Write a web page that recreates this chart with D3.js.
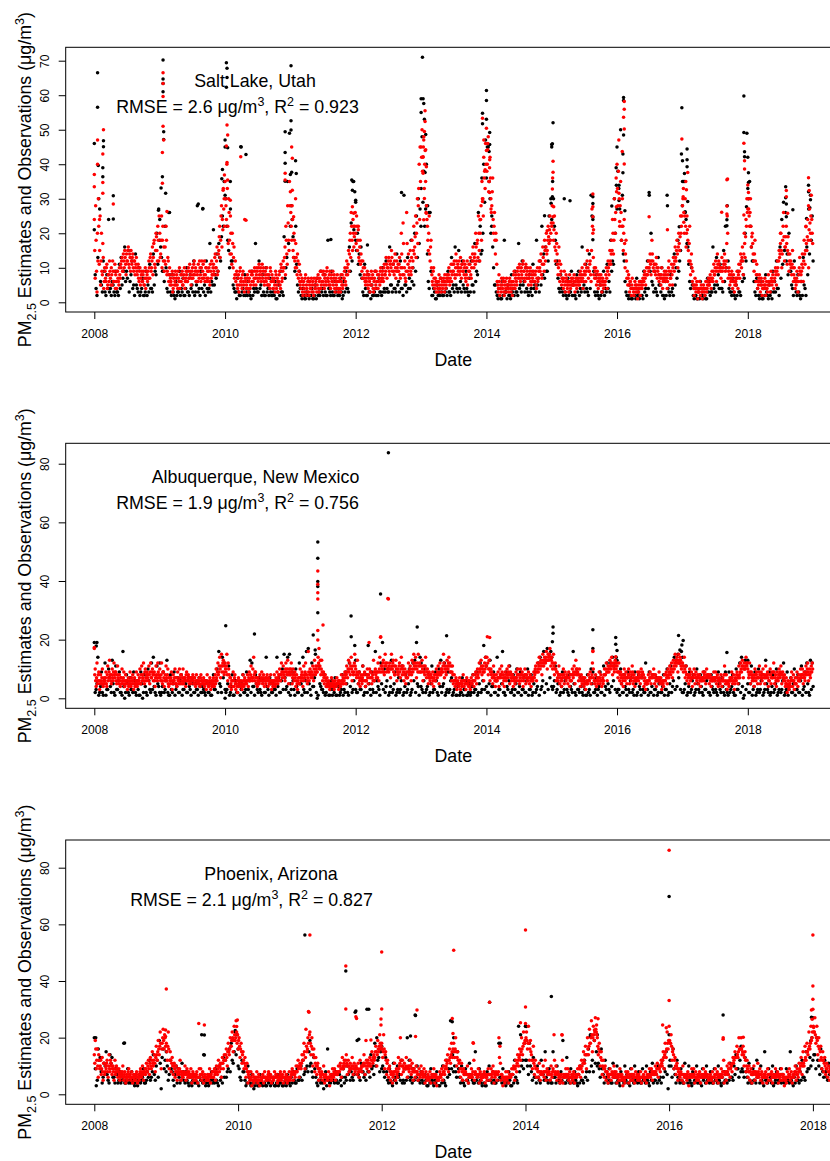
<!DOCTYPE html>
<html>
<head>
<meta charset="utf-8">
<script src="https://cdn.jsdelivr.net/npm/d3@7"></script>
<style>
  body { margin: 0; background: #fff; }
  svg { display: block; }
  text { font-family: "Liberation Sans", Arial, Helvetica, sans-serif; fill: #000; }
</style>
</head>
<body>
<svg id="chart" width="830" height="1161"></svg>
<script>
// Daily PM2.5: estimates (red) vs. observations (black), 2008-2018.
// One row per year. Estimates are listed every 5 days (two interleaved row sets,
// offset by 2.5 days), observations every 10 days (two sets offset by 5 days).
// Episode values are listed separately as [decimal year, value].

const firstYear = 2008;
const xTickYears = [2008, 2010, 2012, 2014, 2016, 2018];

// ---------- Salt Lake, Utah ----------
const saltLakeEst = [
  [24,7,18,3,12,22, 15,5,20,8,13,6, 9,6,11,5,8,12, 7,10,5,9,6,11, 8,4,9,6,10,7, 10,13,9,12,15,11, 14,12,16,10,13,15, 11,14,9,12,10,13, 8,11,6,10,7,9, 6,9,5,10,7,8, 9,12,7,14,10,16, 13,18,10,20,15,22,12],
  [20,14,25,18,12,9, 16,22,8,13,6,10, 7,5,9,4,8,6, 5,8,4,7,10,6, 6,9,5,8,4,7, 8,6,10,7,9,5, 9,7,11,8,10,6, 8,11,7,10,6,12, 9,7,12,8,10,6, 7,10,5,9,12,8, 11,8,14,10,16,9, 15,22,18,28,24,33,30],
  [35,28,40,22,30,18, 25,14,20,10,16,8, 6,9,4,8,5,10, 7,4,9,5,24,6, 5,8,3,7,4,9, 6,9,5,10,7,8, 9,6,11,7,10,8, 7,10,5,9,6,8, 5,8,4,9,6,7, 4,7,3,8,5,6, 6,9,4,10,7,12, 10,16,22,14,28,18,35],
  [32,22,28,15,20,12, 17,10,14,7,11,5, 4,7,2,6,3,8, 5,3,7,2,6,4, 3,6,2,5,4,7, 5,8,3,7,4,9, 6,9,4,8,5,10, 7,5,9,4,8,6, 5,8,3,7,4,6, 4,7,3,6,8,5, 7,10,5,12,8,15, 14,20,26,18,24,16,22],
  [20,25,15,22,12,18, 14,9,12,7,10,5, 6,9,4,8,3,7, 5,8,3,7,4,9, 6,4,8,5,10,7, 9,6,11,8,13,7, 10,13,8,12,15,9, 11,8,14,7,12,9, 9,13,7,20,10,23, 8,12,6,26,9,14, 10,15,8,18,12,22, 16,25,20,30,28,40,45],
  [45,50,42,48,40,35, 28,22,15,25,12,18, 8,5,10,4,7,3, 6,3,8,4,7,5, 4,7,3,6,5,8, 7,10,5,9,6,11, 9,12,7,14,8,11, 10,8,13,7,11,9, 8,11,6,10,5,9, 9,13,7,12,16,10, 14,20,12,18,25,15, 20,28,35,30,42,38,46],
  [44,40,48,35,42,30, 28,36,20,26,14,18, 6,3,8,2,5,7, 4,7,2,6,3,5, 5,3,7,4,6,2, 6,9,4,8,5,10, 8,11,6,10,7,12, 9,6,11,7,10,5, 7,10,5,9,6,8, 6,9,4,10,7,12, 9,14,7,16,11,18, 12,20,15,22,17,25,20],
  [22,36,18,25,12,20, 14,8,16,6,11,5, 7,4,9,3,8,5, 6,3,8,4,7,5, 5,8,3,7,4,6, 7,5,9,6,10,4, 8,11,6,10,15,7, 9,12,6,27,20,8, 7,10,5,9,4,8, 5,8,3,7,4,6, 6,10,4,12,8,15, 11,18,24,14,30,20,36],
  [40,28,47,22,35,18, 30,15,24,10,18,7, 5,8,3,6,2,7, 4,2,6,3,5,1, 3,6,2,5,4,7, 6,9,5,10,8,12, 10,14,8,18,12,9, 11,8,13,7,10,6, 8,5,10,4,7,9, 6,9,4,8,12,5, 7,11,5,13,9,16, 12,18,10,20,15,25,22],
  [28,33,20,30,16,25, 18,12,22,8,14,6, 5,2,7,3,6,1, 3,6,2,5,1,4, 4,2,6,3,5,7, 5,8,4,9,6,11, 8,12,6,14,9,11, 10,7,13,6,11,14, 9,12,25,7,10,5, 6,9,4,8,3,7, 5,9,4,11,7,14, 10,16,8,20,13,24,30],
  [34,27,22,30,16,20, 14,9,18,6,11,4, 5,8,3,7,2,6, 4,7,2,6,3,8, 6,3,9,5,8,4, 7,10,5,12,8,15, 14,20,10,18,26,12, 16,22,11,19,9,14, 12,8,15,6,10,4, 5,9,3,8,13,6, 9,14,6,18,11,22, 15,24,10,27,18,31,20]
];
const saltLakeEstMid = [
  [15,28,9,20,30,11, 25,12,9,17,4,10, 7,10,4,8,6,9, 5,8,12,6,9,4, 6,9,7,5,8,11, 12,9,14,10,13,8, 12,15,11,14,9,12, 13,10,12,8,11,9, 10,7,9,5,8,6, 8,5,7,4,9,6, 7,10,13,9,12,8, 17,11,15,19,12,18,25],
  [13,18,10,22,16,12, 11,18,9,12,8,5, 6,8,3,7,5,9, 7,5,9,6,4,8, 8,5,7,10,6,9, 6,9,7,11,8,7, 10,8,12,9,6,9, 6,9,12,8,10,7, 11,8,6,10,7,9, 9,6,11,7,8,10, 9,13,10,12,8,14, 19,13,25,16,21,27,22],
  [30,24,33,17,26,14, 20,11,17,13,7,12, 8,5,7,3,9,6, 5,8,6,3,7,4, 7,4,6,9,5,8, 8,6,7,9,5,10, 7,10,8,9,6,11, 9,6,8,7,10,5, 7,5,10,6,8,4, 6,5,9,4,7,3, 8,5,11,6,9,10, 13,8,18,11,23,15,28],
  [26,18,24,13,18,10, 13,8,12,9,6,8, 6,3,5,4,7,2, 4,6,3,5,4,7, 5,3,7,4,6,3, 7,4,6,9,5,6, 8,5,7,6,9,7, 6,8,5,7,6,9, 7,4,6,5,8,3, 6,4,8,5,4,7, 9,6,8,10,11,9, 18,13,22,15,20,19,26],
  [17,22,18,13,16,11, 12,7,10,8,6,7, 8,5,7,6,5,9, 7,4,6,9,5,6, 8,6,7,9,6,8, 7,10,8,9,11,10, 12,9,11,10,13,11, 9,12,10,9,10,11, 11,8,10,14,8,17, 10,7,9,17,11,8, 12,9,13,10,15,14, 19,13,23,17,33,24,35],
  [42,38,45,33,44,26, 24,18,20,14,16,10, 6,9,7,5,6,5, 4,6,5,7,3,6, 6,5,8,4,7,6, 8,6,7,11,8,9, 11,8,10,12,10,9, 12,9,10,11,9,12, 10,7,8,12,7,11, 11,8,10,14,12,13, 11,16,17,13,20,12, 24,18,30,25,36,33,40],
  [38,46,32,39,36,26, 32,24,22,18,20,11, 5,4,6,4,3,5, 6,3,5,4,7,4, 4,6,5,3,5,4, 8,5,7,6,9,7, 10,7,9,8,11,9, 7,10,8,9,7,8, 9,6,8,7,9,6, 8,5,7,6,9,10, 12,8,11,13,9,15, 16,14,18,19,21,18,23],
  [28,23,21,16,15,17, 11,10,12,8,9,7, 6,7,5,6,7,4, 5,6,5,6,5,7, 6,5,6,5,7,5, 6,8,7,8,7,6, 9,8,9,12,10,9, 11,8,15,22,13,10, 9,7,8,6,7,6, 7,5,6,5,6,5, 8,7,9,10,11,12, 14,15,20,18,24,26,32],
  [33,38,30,28,26,22, 22,20,17,14,12,9, 7,5,6,4,5,4, 3,4,5,4,3,4, 5,4,4,6,5,6, 8,7,8,8,10,9, 12,11,12,14,10,11, 9,11,10,9,8,8, 7,8,7,6,8,7, 8,7,6,10,9,7, 9,8,10,11,12,13, 15,14,16,17,19,20,25],
  [30,26,25,22,20,21, 15,17,12,11,10,9, 4,5,4,5,4,3, 4,4,4,3,3,5, 3,4,4,4,6,5, 7,6,7,7,9,8, 10,9,10,11,12,10, 9,10,9,10,12,11, 10,17,20,9,8,7, 8,7,6,6,5,6, 7,7,8,9,11,12, 13,12,14,17,19,22,26],
  [30,25,26,22,19,17, 12,14,12,8,8,6, 7,6,5,5,4,4, 5,5,4,4,5,6, 5,6,7,6,6,6, 9,8,9,10,12,13, 17,15,14,22,19,16, 19,17,15,14,12,11, 10,11,10,8,7,6, 7,6,6,10,9,8, 11,10,12,14,15,17, 19,18,21,23,25,24,17]
];
const saltLakeObs = [
  [21,4,13, 27,5,12, 3,8,24, 4,6,3, 9,3,11, 13,7,16, 9,15,6, 12,5,14, 4,10,3, 7,2,9, 5,11,4, 14,9,20,27],
  [24,13,9, 22,4,26, 3,8,2, 6,3,9, 4,7,2, 10,3,8, 5,12,3, 28,4,9, 27,5,12, 3,17,6, 21,8,14, 17,12,25,35],
  [45,22,15, 27,12,4, 3,7,2, 45,4,8, 3,6,2, 9,4,17, 3,12,5, 8,2,10, 4,7,2, 3,6,1, 5,9,3, 19,10,35,49],
  [37,24,13, 22,5,9, 2,4,1, 3,6,2, 4,1,5, 7,3,9, 4,8,2, 18,3,9, 2,6,4, 3,7,1, 6,9,4, 16,23,35,32],
  [29,20,14, 16,3,11, 2,8,3, 5,2,9, 4,7,3, 10,4,12, 3,16,5, 11,4,14, 6,12,4, 31,5,13, 7,18,10, 20,25,30,27],
  [59,29,22, 28,6,26, 2,4,1, 5,3,7, 2,6,4, 9,3,13, 5,16,4, 15,6,12, 4,9,3, 7,12,5, 17,9,26, 22,15,40,47],
  [53,45,30, 25,10,5, 2,4,1, 6,18,3, 5,2,8, 4,9,3, 17,5,12, 6,10,3, 8,4,11, 5,18,7, 12,22,14, 16,9,25,30],
  [45,30,18, 12,4,8, 3,30,2, 7,3,9, 5,2,8, 9,4,16, 5,11,3, 14,31,24, 3,8,2, 5,3,9, 4,11,6, 18,12,30,39],
  [45,33,50, 31,12,3, 2,5,1, 4,2,7, 3,6,2, 9,4,12, 31,20,5, 9,3,13, 5,10,2, 6,31,3, 8,4,14, 10,18,12,43],
  [41,35,24, 16,6,10, 2,4,1, 3,6,2, 4,1,7, 6,3,16, 5,13,8, 11,4,15, 22,28,4, 3,7,2, 5,9,3, 12,8,20,49],
  [42,35,16, 12,3,7, 2,6,1, 4,8,2, 5,3,9, 6,12,4, 16,24,29, 26,14,20, 9,4,12, 3,8,2, 6,13,4, 16,27,31,25]
];
const saltLakeObsMid = [
  [8,2,30, 6,3,9, 2,4,3, 2,5,2, 3,2,4, 5,9,6, 7,3,8, 4,2,5, 3,2,4, 2,3,2, 3,4,3, 5,8,11,18],
  [16,9,6, 10,3,8, 2,3,1, 2,3,2, 3,2,4, 3,2,4, 3,2,5, 3,2,4, 3,2,4, 4,3,5, 5,7,9, 13,19,22,31],
  [30,18,10, 12,5,3, 1,3,2, 3,2,2, 2,3,1, 2,3,4, 3,4,2, 3,2,3, 2,3,2, 2,1,3, 2,3,2, 7,13,17,22],
  [28,19,9, 11,3,4, 1,2,1, 2,1,2, 1,2,1, 2,2,3, 2,3,2, 4,2,3, 2,3,2, 2,3,2, 3,4,3, 9,12,21,18],
  [15,11,8, 7,2,4, 2,3,1, 2,3,2, 2,3,2, 3,3,4, 3,5,3, 4,3,5, 3,4,2, 5,3,4, 4,6,5, 9,13,17,22],
  [48,38,27, 14,4,9, 2,3,1, 2,2,3, 2,3,2, 3,2,4, 3,5,3, 4,3,5, 3,4,2, 3,5,3, 6,8,12, 14,20,29,36],
  [45,35,20, 16,5,3, 1,2,1, 2,3,1, 2,1,3, 2,3,2, 4,3,5, 3,4,2, 3,2,4, 3,5,3, 5,8,7, 9,12,18,24],
  [35,22,11, 7,3,4, 2,3,1, 2,3,2, 2,1,3, 2,3,4, 3,4,2, 4,25,9, 2,3,1, 2,3,2, 3,4,3, 9,11,20,27],
  [38,27,18, 14,6,2, 1,2,1, 2,1,2, 1,2,1, 3,2,4, 9,6,3, 4,2,5, 3,2,1, 2,4,2, 3,2,5, 7,9,15,28],
  [35,26,17, 11,4,5, 1,2,1, 1,2,1, 2,1,3, 2,3,4, 3,5,4, 4,3,6, 10,12,3, 2,3,1, 2,3,2, 6,7,12,33],
  [30,22,12, 6,2,4, 1,2,1, 2,3,1, 2,1,3, 3,4,2, 7,11,15, 12,8,9, 5,2,6, 2,3,1, 2,5,2, 8,14,18,12]
];
const saltLakeObsPeaks = [
  [2008.05,66.5],[2008.05,56.5],[2008.0,46],[2008.14,46.8],[2008.14,45.1],[2008.06,39.6],[2008.13,39],[2008.13,36.4],[2008.29,30.9],[2008.29,24.1],
  [2009.05,70.2],[2009.05,64.7],[2009.05,63.4],[2009.05,61],[2009.06,49.4],[2009.06,47.2],[2009.04,36.4],[2009.02,33.1],[2009.09,31.6],[2009.15,26],[2008.98,26.7],
  [2009.59,28.5],[2009.66,27.2],
  [2010.02,69.4],[2010.03,67.8],[2010.03,65.1],[2010.02,62.3],[2010.0,47],[2010.04,44.8],[2009.96,38.5],[2009.95,35.8],[2010.08,35],[2010.24,45.1],[2010.32,42.8],
  [2011.01,68.5],[2011.01,52.6],[2011.01,49.9],[2010.92,49.4],[2010.92,43.4],[2010.92,40.3],[2011.08,41],[2011.02,37.7],[2011.09,37.3],[2010.92,35.1],
  [2011.94,35.4],[2011.97,35],[2011.95,32.5],[2012.0,29.6],[2011.62,18.2],[2012.18,16.6],[2012.70,31.8],
  [2013.02,71],[2013.03,59],[2013.04,57.6],[2013.0,55],[2013.05,53],[2013.07,48.6],[2013.08,40],[2013.06,37.6],[2013.0,33],[2013.1,28],[2013.12,26],
  [2014.0,61.4],[2014.0,58.5],[2013.94,54.8],[2013.94,51.7],[2014.05,49.2],[2014.05,45.7],[2014.04,43.7],[2013.93,36],[2014.08,22],
  [2015.02,52],[2015.01,45.9],[2015.0,45.7],[2015.01,30.6],[2014.99,28.7],[2015.28,29.4],[2014.89,25.1],
  [2015.63,30.6],[2015.63,28.6],[2015.63,24.7],[2015.63,18.1],
  [2016.1,59.3],[2016.1,58.5],[2016.1,48.5],[2016.09,43],[2016.09,37.5],[2015.99,33.9],[2016.03,33.9],[2015.92,27.9],[2016.03,29.5],[2016.12,26.5],
  [2016.99,56.4],[2017.07,44.4],[2017.07,41.3],[2017.07,39.3],[2017.03,37.3],[2017.0,35],[2017.04,26.2],[2016.77,28],[2016.49,31.8],[2016.95,21.9],[2017.08,29.2],
  [2017.94,59.8],[2017.94,49.2],[2017.95,43.6],[2017.95,42.2],[2018.01,37.5],[2018.01,34.7],[2017.98,27.7],[2017.68,22.2],[2017.68,23.9],
  [2018.58,33.5],[2018.59,28.5],[2018.69,26.8],[2018.59,24.8],[2018.58,30.3],
  [2018.93,33.9],[2018.96,29.7],[2018.93,32],[2018.9,24.3],[2018.95,27.4]
];
const saltLakeEstPeaks = [
  [2008.05,47],[2008.14,50],[2008.13,43],[2008.13,34.7],[2008.13,31.6],[2008.0,33.5],[2008.0,37],[2008.08,24],[2008.05,40],[2008.29,28.5],
  [2009.05,66.5],[2009.05,63.4],[2009.05,59.6],[2009.05,51],[2009.06,47],[2009.04,43.4],[2009.04,34.5],[2009.11,26.3],
  [2010.03,51.4],[2010.04,48.5],[2010.02,45.3],[2010.03,40.5],[2009.99,36.9],[2010.04,35.4],[2009.97,32.5],[2010.08,29.6],[2010.24,42.2],[2010.32,23.8],
  [2011.02,45],[2011.03,41.7],[2010.92,37.4],[2010.92,35.4],[2011.03,32.5],[2011.08,30],[2011.05,24.8],
  [2011.95,27.7],[2011.97,25.8],[2011.97,22],[2012.04,21],
  [2013.06,55.5],[2013.06,52.4],[2013.05,49.5],[2013.04,47],[2013.07,44.2],[2013.03,42.2],[2013.08,39.3],[2013.03,37.4],[2013.05,30.1],[2013.08,25.8],[2013.04,23.9],
  [2013.94,53.3],[2014.0,50.4],[2013.96,47],[2014.02,44.2],[2014.05,41.3],[2013.98,38.4],[2014.04,35],[2014.05,31.8],[2013.94,29.2],[2014.07,27],[2013.9,23.9],
  [2015.02,40.9],[2015.02,37.7],[2015.01,32.8],[2015.03,27.7],[2015.02,24.8],[2014.93,20.7],
  [2015.63,31.4],[2015.63,27.7],[2015.63,24.8],[2015.64,21],
  [2016.11,58.2],[2016.11,55.9],[2016.1,53.6],[2016.11,50.2],[2016.08,43.7],[2016.11,40.1],[2016.03,31.6],[2015.99,27.7],[2016.04,23.4],[2016.49,24.8],
  [2016.99,47.3],[2017.08,37.6],[2017.05,35],[2017.06,32.6],[2017.01,30.6],[2017.02,23.2],[2016.77,21],
  [2017.69,35.7],[2017.68,35.5],[2017.68,27.9],[2017.6,26.1],[2017.68,25.6],
  [2017.94,46.1],[2017.95,41],[2017.95,38.6],[2018.01,31.8],[2018.0,27],[2017.94,25.3],
  [2018.59,32.4],[2018.59,30.6],[2018.61,25.8],[2018.5,20],
  [2018.93,36.1],[2018.94,32.4],[2018.93,28],[2018.89,21.9],[2018.96,20]
];

// ---------- Albuquerque, New Mexico ----------
const albuquerqueEst = [
  [17,10,4,12,6,9, 3,8,5,10,4,7, 6,9,4,11,7,13, 8,5,10,6,12,7, 9,5,11,6,8,4, 7,10,5,9,4,8, 6,3,7,5,9,4, 6,8,3,7,5,9, 4,8,6,10,5,11, 7,12,5,10,6,9, 8,11,5,12,7,10, 6,9,4,11,7,12,8],
  [10,6,12,5,9,4, 8,11,6,10,4,7, 5,9,3,8,6,10, 7,4,9,6,10,5, 8,5,10,6,7,4, 9,6,8,5,7,6, 6,8,5,7,4,8, 6,5,7,4,8,6, 5,7,4,6,3,8, 5,4,7,3,6,5, 7,4,8,10,6,12, 9,14,7,15,11,13,8],
  [12,9,15,6,10,4, 7,3,6,9,4,8, 3,6,2,7,4,5, 6,3,8,4,7,5, 5,8,4,9,6,11, 7,10,14,6,9,5, 4,7,5,8,6,9, 5,8,4,7,6,8, 4,7,5,8,3,6, 5,8,4,7,9,5, 8,10,6,12,7,11, 9,6,12,8,13,5,10],
  [8,12,5,10,6,9, 4,8,3,7,5,10, 6,9,4,11,7,12, 8,5,16,6,10,7, 9,11,6,13,8,10, 9,14,17,11,8,13, 6,9,5,8,4,7, 4,6,3,5,7,4, 5,3,6,4,7,5, 3,6,4,8,5,7, 6,9,5,11,7,13, 10,8,14,6,11,9,15],
  [10,7,13,5,9,4, 8,5,11,6,9,4, 6,10,5,19,7,9, 5,8,13,6,10,7, 9,12,6,14,21,11, 10,13,8,15,11,12, 34,9,12,7,15,10, 13,11,8,13,6,10, 9,12,7,14,8,11, 6,10,5,9,7,12, 8,11,6,13,9,15, 10,14,7,12,15,9,11],
  [9,13,6,11,8,14, 7,10,5,9,6,8, 5,9,4,8,6,10, 7,11,5,12,8,10, 9,15,7,11,8,13, 10,14,12,9,6,11, 5,8,4,7,3,6, 4,7,3,6,5,8, 4,6,3,7,5,4, 6,3,7,5,8,4, 6,9,5,10,7,12, 9,13,8,11,6,12,14],
  [11,21,8,13,6,10, 9,5,11,7,4,8, 6,9,4,10,7,11, 5,8,4,9,6,10, 7,11,5,9,6,8, 4,7,5,9,6,10, 8,5,10,6,9,4, 7,10,5,8,6,9, 5,8,4,7,6,9, 8,11,6,12,9,14, 10,13,8,15,11,14, 12,16,10,15,13,17,11],
  [14,10,15,8,12,6, 9,6,11,5,8,4, 7,10,5,9,6,8, 5,9,4,8,6,10, 7,11,5,13,8,9, 6,10,4,8,5,7, 4,7,3,6,5,8, 6,9,5,8,16,7, 5,8,4,7,6,9, 5,8,4,7,6,10, 8,12,6,11,9,13, 10,14,8,12,9,13,10],
  [11,7,12,6,9,5, 8,4,10,6,9,5, 7,10,5,9,6,11, 5,8,4,7,6,9, 6,9,5,10,7,8, 4,7,3,6,5,8, 6,9,5,8,7,10, 5,8,4,7,6,9, 5,7,3,6,4,8, 6,9,5,10,7,11, 8,12,7,13,10,15, 11,14,9,15,12,13,10],
  [12,9,14,7,11,6, 8,5,10,6,9,4, 7,10,5,9,6,8, 5,8,4,7,6,9, 6,9,5,10,7,8, 5,8,4,7,6,9, 6,9,5,8,4,7, 5,8,4,7,6,11, 5,8,3,6,4,7, 6,9,5,8,3,7, 6,9,5,11,7,12, 9,13,7,12,10,14,11],
  [10,7,12,5,9,6, 8,4,10,6,9,5, 7,11,5,9,6,10, 8,5,11,7,9,4, 6,10,5,9,7,12, 5,8,4,9,6,10, 7,11,5,9,6,8, 4,7,2,6,3,5, 6,9,4,8,3,7, 5,9,4,8,6,10, 7,10,5,9,6,11, 8,12,6,10,7,11,12]
];
const albuquerqueEstMid = [
  [8,6,7,5,8,6, 5,6,7,5,6,5, 7,5,8,6,9,7, 6,8,7,9,8,9, 6,8,7,5,6,7, 5,6,7,6,5,6, 5,6,4,6,5,7, 5,6,5,4,6,5, 6,5,7,5,8,6, 8,6,9,7,8,7, 6,8,9,7,9,8, 8,6,7,8,6,9,7],
  [7,8,6,9,7,6, 6,7,8,5,7,6, 7,6,5,6,7,5, 5,7,6,5,7,8, 6,7,5,7,6,8, 6,7,6,7,5,7, 7,6,7,5,6,6, 5,6,5,7,6,5, 6,5,6,5,6,5, 4,6,5,5,4,6, 5,6,5,7,9,8, 11,10,11,9,12,9,11],
  [10,11,8,12,8,7, 5,6,4,6,7,5, 5,4,6,5,6,4, 4,5,6,6,5,6, 6,6,7,6,8,7, 6,7,8,9,7,7, 6,5,6,6,7,6, 7,6,6,5,7,6, 6,5,6,6,5,4, 6,6,5,6,6,7, 6,8,8,9,9,8, 7,10,9,10,8,9,8],
  [10,9,7,8,8,7, 6,5,6,5,7,7, 8,7,6,8,9,8, 6,7,9,8,8,9, 7,8,10,9,11,9, 11,12,10,13,10,9, 8,7,7,6,6,5, 5,4,5,4,5,6, 4,5,4,5,5,6, 5,4,5,6,6,5, 8,7,8,9,10,9, 12,11,10,9,8,12,11],
  [8,9,8,7,6,7, 6,7,8,8,6,6, 8,7,8,10,9,7, 7,6,9,9,8,9, 7,9,10,9,11,9, 12,9,11,12,9,10, 10,11,10,10,11,12, 9,8,11,10,9,8, 11,9,10,11,10,9, 8,8,7,7,9,9, 10,9,8,10,12,11, 12,11,10,9,11,12,9],
  [11,10,9,9,11,10, 9,8,7,7,8,7, 7,6,7,6,8,8, 9,8,8,9,10,9, 11,12,10,9,10,11, 12,11,9,11,9,8, 6,6,6,5,5,5, 5,5,5,4,6,6, 6,5,5,5,6,6, 4,5,5,6,6,6, 8,7,7,8,9,10, 10,11,10,9,9,10,11],
  [14,12,10,10,9,8, 7,7,8,6,6,6, 7,7,7,8,8,9, 7,6,7,7,8,8, 9,8,8,7,8,7, 6,6,7,7,8,8, 6,7,8,8,7,6, 8,8,7,6,7,7, 7,6,6,6,7,7, 10,9,9,10,11,12, 12,11,12,13,12,13, 14,13,13,14,15,14,13],
  [12,12,11,10,10,9, 7,8,8,7,6,6, 8,8,7,7,7,7, 7,7,6,6,8,8, 9,8,9,10,10,8, 8,7,6,6,7,6, 5,5,5,5,6,6, 7,7,7,12,10,6, 6,6,6,5,7,7, 6,6,6,5,8,8, 10,9,9,10,11,11, 12,11,11,10,11,12,12],
  [9,9,9,8,7,7, 6,7,8,7,7,7, 8,8,7,7,8,9, 7,6,6,6,7,7, 8,7,7,8,9,8, 6,5,5,5,6,6, 7,7,7,8,8,8, 7,6,6,6,7,7, 6,5,5,5,6,6, 8,7,7,8,9,9, 10,10,9,11,12,12, 13,12,12,13,14,11,12],
  [11,11,10,9,8,8, 7,7,8,7,7,7, 8,8,7,7,7,7, 7,6,6,6,7,7, 8,7,7,8,8,7, 7,6,6,6,7,7, 7,7,7,6,6,6, 6,6,6,6,8,8, 6,5,5,5,6,6, 7,7,6,6,5,6, 8,7,7,8,9,10, 11,11,10,10,11,12,12],
  [9,8,9,8,7,7, 6,7,8,8,7,7, 9,8,7,7,8,8, 7,7,8,8,7,6, 8,8,7,7,9,9, 7,6,6,7,8,8, 9,8,8,7,7,6, 5,5,4,4,5,4, 7,6,6,6,5,5, 7,7,6,6,7,8, 8,8,7,7,8,9, 10,9,8,8,9,9,10]
];
const albuquerqueObs = [
  [19,3,14, 2,9,1, 12,3,10, 4,13,2, 11,3,9, 2,16,0, 8,2,7, 3,9,2, 6,1,9, 0,8,2, 10,3,12, 14,2,11,4],
  [12,2,9, 3,13,1, 8,2,9, 3,7,2, 8,3,6, 2,7,3, 6,2,5, 3,7,2, 4,2,6, 2,5,1, 8,3,10, 16,4,14,12],
  [0,3,11, 2,8,1, 6,2,5, 3,8,2, 9,3,13, 12,4,8, 3,7,2, 6,2,14, 3,7,2, 5,3,14, 7,2,10, 15,3,14,15],
  [1,9,3, 10,2,12, 5,14,2, 16,17,3, 12,4,15, 0,11,4, 3,8,2, 5,1,6, 3,7,1, 4,2,8, 3,9,2, 12,21,3,18],
  [13,2,9, 3,11,2, 8,18,3, 9,2,16, 6,3,12, 19,10,4, 10,2,13, 3,9,2, 7,3,11, 2,8,3, 10,2,12, 13,19,4,14],
  [12,2,10, 3,8,2, 11,3,9, 2,10,13, 4,12,2, 9,3,7, 2,6,1, 5,2,7, 3,6,1, 5,2,8, 3,9,2, 12,3,18,14],
  [11,2,13, 4,9,2, 14,3,8, 16,2,9, 3,11,2, 8,3,10, 2,9,3, 7,2,10, 3,8,2, 9,3,12, 14,4,16, 13,17,15,16],
  [14,4,11, 3,8,2, 9,3,7, 2,8,3, 16,2,9, 3,7,2, 6,1,8, 3,10,9, 2,7,3, 9,2,11, 4,12,3, 12,14,11,14],
  [13,3,10, 2,8,3, 9,2,7, 3,9,1, 8,3,7, 2,12,3, 9,2,8, 3,7,2, 6,2,8, 3,10,2, 11,4,14, 13,15,12,16],
  [14,3,11, 2,9,3, 8,2,10, 3,8,2, 9,3,7, 2,8,3, 6,2,9, 3,7,2, 9,2,9, 3,8,1, 10,3,12, 14,0,13,12],
  [13,2,11, 3,9,2, 10,3,8, 2,13,3, 9,2,8, 3,10,2, 8,3,12, 2,9,3, 7,2,10, 3,8,2, 11,3,9, 12,2,13,12]
];
const albuquerqueObsMid = [
  [2,5,1, 4,2,6, 1,3,7, 2,5,1, 3,6,2, 1,4,2, 5,1,3, 2,6,1, 3,1,5, 2,4,1, 6,2,3, 4,1,5,2],
  [1,4,2, 6,2,1, 3,5,1, 4,2,6, 1,3,5, 2,4,1, 5,2,3, 1,4,2, 3,1,5, 2,1,4, 3,6,2, 5,2,7,3],
  [2,5,1, 4,1,6, 2,4,1, 5,2,3, 1,6,2, 4,1,5, 2,3,1, 6,2,4, 1,5,2, 3,1,4, 2,6,3, 7,4,2,5],
  [3,6,1, 4,2,5, 1,3,6, 2,5,1, 4,7,2, 1,5,3, 2,1,4, 1,3,1, 2,1,5, 1,3,1, 2,5,1, 4,2,6,3],
  [2,5,3, 6,1,4, 2,5,1, 3,6,2, 4,1,5, 3,2,6, 1,4,2, 5,1,3, 2,6,1, 4,2,5, 1,3,6, 2,5,1,4],
  [3,6,2, 4,1,5, 2,3,6, 1,4,2, 5,1,3, 2,6,1, 3,1,4, 1,2,1, 3,1,2, 1,4,2, 3,1,5, 2,6,3,4],
  [2,5,1, 4,2,6, 1,3,5, 2,1,4, 6,2,3, 1,5,2, 4,1,3, 2,6,1, 3,1,5, 2,4,1, 3,6,2, 5,3,7,4],
  [3,6,2, 5,1,4, 2,6,3, 1,4,2, 5,1,3, 2,4,1, 3,1,2, 1,5,2, 3,1,4, 2,6,1, 3,5,2, 4,6,3,2],
  [3,1,5, 2,4,1, 3,6,2, 1,5,2, 4,1,3, 2,5,1, 2,4,1, 3,1,5, 2,4,1, 3,1,5, 2,6,3, 4,7,3,2],
  [2,5,1, 4,2,6, 1,3,5, 2,4,1, 3,6,2, 1,4,2, 3,1,5, 2,4,1, 3,1,2, 4,2,1, 3,5,2, 4,1,3,5],
  [2,5,1, 4,1,3, 2,6,1, 3,5,2, 1,4,2, 5,1,3, 2,6,1, 3,1,4, 2,5,1, 3,2,6, 1,4,2, 5,1,3,4]
];
const albuquerqueObsPeaks = [
  [2008.04,19],[2008.03,17.8],[2010.01,24.7],[2010.45,21.9],
  [2011.42,53.3],[2011.42,47.8],[2011.42,39.8],[2011.42,38.1],[2011.42,29.2],[2011.35,21.6],[2011.38,16.5],
  [2011.93,28.1],[2012.38,35.6],[2012.5,83.7],[2012.94,24.3],[2013.39,21.3],
  [2015.02,24.3],[2015.02,22.2],[2015.01,19.3],[2015.63,23.4],[2015.63,17],
  [2015.98,20.7],[2015.98,18.4],[2016.0,16.3],
  [2016.94,21.4],[2017.01,19.7],[2016.99,18.2],[2016.96,16.5],[2017.68,15.6]
];
const albuquerqueEstPeaks = [
  [2008.0,17.3],[2011.42,43.4],[2011.42,38.9],[2011.42,36],[2011.42,33.9],[2011.42,23.1],[2011.42,19.9],[2011.5,25],
  [2012.5,33.9],[2012.38,20.8],[2014.05,20.7],[2015.63,16.1],[2015.98,14.2]
];

// ---------- Phoenix, Arizona ----------
const phoenixEst = [
  [14,19,9,16,6,12, 10,7,13,5,11,8, 9,12,6,14,8,11, 7,10,5,12,8,9, 6,9,5,8,7,10, 5,8,4,7,6,9, 6,5,8,4,7,6, 5,8,4,7,6,9, 6,10,5,8,7,11, 8,12,7,13,9,15, 10,14,8,17,12,19, 14,22,9,18,23,16,20],
  [18,12,22,9,15,8, 13,7,11,6,10,5, 9,7,12,5,8,6, 7,10,5,9,6,8, 6,9,4,8,5,7, 5,8,4,25,6,9, 5,8,4,7,6,5, 7,5,9,4,6,8, 6,9,5,10,7,12, 8,11,6,13,9,14, 12,16,10,18,14,20, 17,22,15,24,19,26,18],
  [16,20,13,18,11,15, 9,13,6,11,4,8, 5,8,3,7,4,6, 5,8,4,7,3,6, 5,7,4,8,6,5, 6,8,5,7,4,6, 5,8,6,7,4,6, 6,8,5,7,4,8, 5,7,4,6,8,5, 7,9,5,8,6,10, 8,12,6,11,9,14, 12,18,9,23,15,20,29],
  [22,14,20,10,16,8, 13,7,11,5,9,6, 8,5,10,4,7,6, 5,8,3,7,5,9, 6,9,5,8,7,10, 8,11,6,13,9,12, 10,14,7,12,8,11, 9,13,7,11,8,10, 7,11,6,12,9,8, 10,14,7,19,9,12, 8,13,10,15,11,14, 13,17,10,19,15,21,16],
  [18,13,21,9,15,7, 12,6,10,5,8,4, 7,11,5,9,6,13, 10,20,7,12,8,11, 9,13,6,10,8,12, 7,11,5,9,6,10, 8,5,9,6,10,7, 6,9,4,8,5,7, 5,8,4,7,6,9, 4,7,3,6,5,8, 6,9,5,10,7,12, 9,14,8,16,11,18,13],
  [18,13,20,10,15,8, 12,6,11,5,9,7, 8,5,10,4,7,6, 9,6,18,5,8,7, 6,9,4,8,5,7, 6,8,4,7,5,9, 7,5,9,6,10,4, 6,8,5,7,20,17, 5,7,3,6,4,8, 5,8,4,7,6,9, 7,10,5,12,8,14, 10,16,12,20,14,22,18],
  [25,22,16,24,12,19, 14,9,17,7,12,6, 9,6,11,5,8,7, 10,6,12,5,9,7, 8,5,10,6,9,21, 7,10,5,8,6,4, 5,21,4,7,6,9, 6,9,5,8,4,7, 5,8,4,7,6,9, 7,10,6,12,8,15, 11,17,9,20,14,23, 18,26,15,24,19,27,22],
  [20,14,18,10,15,7, 12,6,10,5,8,4, 7,9,5,8,6,10, 6,8,4,7,5,9, 5,7,3,6,4,8, 6,8,4,7,5,9, 5,7,4,8,6,5, 7,5,8,4,6,7, 5,8,4,7,6,9, 6,9,5,8,7,10, 7,11,6,9,8,12, 10,15,9,18,13,22,16],
  [24,18,21,12,16,9, 13,7,11,5,9,6, 8,5,10,4,7,6, 5,8,3,7,6,9, 6,9,4,8,5,7, 5,8,4,7,6,9, 6,8,4,7,5,6, 7,5,8,4,6,9, 5,8,4,7,6,9, 6,20,4,8,5,10, 7,11,6,10,8,13, 12,15,9,17,13,20,16],
  [20,14,17,10,15,8, 12,6,10,5,9,4, 7,10,5,8,6,11, 6,9,5,8,4,7, 6,8,4,9,5,7, 5,8,4,7,6,9, 6,8,4,7,5,9, 5,7,3,6,4,8, 6,9,5,8,4,7, 7,10,5,9,6,11, 8,13,7,15,10,17, 12,18,14,22,16,24,20],
  [30,22,27,18,24,14, 20,12,17,9,15,8, 13,7,11,6,10,5,9]
];
const phoenixEstMid = [
  [11,16,12,10,14,9, 12,9,8,11,7,10, 11,8,10,9,12,10, 9,8,9,7,10,8, 8,7,6,7,8,6, 7,6,6,5,8,7, 7,6,6,6,5,7, 7,6,6,5,8,7, 8,7,8,9,9,8, 10,9,11,10,12,11, 12,11,13,14,15,16, 17,18,16,20,19,21,17],
  [15,17,16,12,12,11, 10,10,9,8,8,7, 8,9,8,7,6,7, 8,7,7,8,7,7, 7,6,7,6,7,6, 7,6,6,9,7,7, 7,6,6,6,5,6, 6,7,6,7,8,6, 8,7,8,8,9,10, 10,9,11,11,12,12, 14,13,15,15,16,17, 19,20,19,21,20,22,21],
  [19,17,16,15,14,12, 11,10,9,8,7,6, 6,6,5,5,6,5, 6,5,6,5,5,5, 6,6,6,6,5,6, 7,6,6,6,6,5, 6,6,7,6,5,5, 7,6,6,6,6,6, 6,6,5,5,6,6, 8,7,7,7,8,8, 10,9,10,10,11,12, 14,15,13,17,16,18,21],
  [18,17,16,14,13,11, 10,10,9,8,7,7, 7,7,6,6,6,5, 6,6,6,5,6,7, 8,7,7,7,8,8, 10,9,9,10,11,10, 12,11,10,10,9,9, 10,10,9,9,10,9, 9,8,8,9,10,10, 11,11,10,12,11,10, 11,10,12,12,13,12, 15,15,14,16,17,18,17],
  [16,15,16,14,12,11, 9,9,8,7,7,6, 8,8,8,7,8,9, 11,12,10,10,9,9, 10,9,9,9,10,10, 9,8,8,8,8,8, 7,7,7,7,8,8, 7,7,6,6,6,6, 6,6,6,6,7,7, 6,6,5,5,6,6, 7,7,8,8,9,10, 11,12,12,13,14,15,16],
  [15,16,15,13,12,11, 9,9,8,8,7,8, 7,7,7,6,6,6, 7,8,12,7,7,7, 7,7,7,6,6,6, 7,7,6,6,7,7, 7,7,7,8,8,7, 7,7,7,8,13,11, 7,6,6,5,6,6, 6,6,6,6,7,7, 9,9,9,10,11,12, 13,14,15,16,17,18,19],
  [20,19,18,18,16,15, 12,12,11,10,9,9, 8,8,8,7,7,7, 8,8,8,8,7,8, 7,7,7,8,8,12, 8,7,7,7,7,6, 7,12,6,6,7,7, 7,7,6,6,6,6, 7,6,6,6,7,7, 9,9,9,10,11,12, 14,14,14,16,17,18, 20,21,20,21,22,23,21],
  [17,16,15,13,12,10, 9,9,8,8,7,6, 7,7,7,7,7,8, 7,6,6,6,7,7, 6,6,5,5,6,6, 7,6,6,6,7,7, 6,6,6,6,7,6, 6,6,6,6,6,6, 6,6,6,6,7,7, 7,8,7,7,8,8, 9,9,9,10,10,11, 12,13,14,15,16,18,19],
  [19,18,17,15,14,12, 10,10,9,8,7,7, 7,7,7,6,6,7, 7,6,6,6,7,7, 7,7,6,6,6,6, 7,6,6,6,7,7, 7,7,6,6,6,6, 6,6,6,6,7,7, 7,6,6,6,7,7, 8,12,7,7,8,8, 9,9,9,10,11,11, 13,13,13,14,15,16,16],
  [16,15,14,13,12,10, 9,8,8,8,7,7, 8,8,7,7,7,8, 7,7,7,6,6,6, 7,6,6,7,7,7, 7,6,6,6,7,7, 7,7,6,6,7,7, 6,6,5,5,6,6, 7,7,6,6,6,6, 8,8,7,7,8,9, 10,11,10,11,12,13, 15,15,16,17,18,19,22],
  [24,22,21,20,19,17, 16,15,13,12,12,11, 10,9,9,8,8,8,7]
];
const phoenixObs = [
  [20,3,16, 13,4,11, 15,5,14, 13,6,9, 4,8,5, 18,4,9, 5,8,4, 6,3,7, 5,9,4, 8,12,6, 14,5,12, 19,2,16,12],
  [15,5,12, 8,3,10, 9,4,11, 5,8,4, 6,3,7, 5,4,6, 21,14,3, 6,4,8, 5,9,4, 10,6,13, 12,8,16, 18,11,22,21],
  [16,6,12, 8,3,10, 4,7,2, 5,3,7, 4,6,3, 5,7,4, 6,3,7, 4,6,3, 5,7,4, 6,8,4, 9,5,10, 12,8,10,15],
  [19,8,13, 6,3,9, 5,2,8, 16,4,7, 5,8,4, 7,3,9, 6,10,8, 8,5,29, 19,6,11, 8,7,30, 8,14,10, 18,20,13,15],
  [17,8,13, 5,9,4, 11,6,10, 7,12,5, 9,20,12, 6,9,28, 10,5,8, 4,7,3, 6,9,4, 5,8,3, 7,10,4, 12,9,26,14],
  [20,8,15, 6,10,4, 9,5,11, 7,4,15, 6,9,4, 7,3,8, 10,5,8, 4,7,18, 6,9,4, 5,8,3, 7,12,5, 24,21,12,18],
  [24,10,18, 8,13,6, 10,5,12, 7,15,5, 9,4,15, 6,10,5, 8,19,4, 13,6,9, 5,8,4, 7,10,5, 12,8,16, 21,12,19,15],
  [21,9,16, 7,12,5, 9,4,11, 6,10,4, 8,5,10, 7,4,9, 6,10,5, 8,4,9, 5,10,4, 8,11,5, 7,10,6, 12,9,15,2],
  [21,10,16, 7,12,5, 9,4,11, 6,10,4, 8,5,10, 7,4,9, 6,10,5, 8,4,9, 5,10,4, 6,8,5, 7,11,6, 10,14,9,12],
  [17,8,13, 6,11,4, 9,5,12, 7,10,4, 15,5,9, 6,10,4, 8,5,9, 7,4,9, 5,15,4, 6,10,5, 8,12,6, 15,9,13,20],
  [27,14,20, 10,16,8, 12,6,11, 9]
];
const phoenixObsMid = [
  [9,5,12, 8,6,10, 7,4,11, 6,4,7, 5,4,6, 4,5,4, 4,5,3, 4,5,4, 6,4,5, 6,5,8, 7,10,6, 11,13,9,8],
  [10,7,9, 5,7,4, 6,5,8, 4,5,3, 4,5,4, 4,3,5, 4,5,4, 3,5,4, 4,5,3, 5,4,6, 6,9,8, 12,15,14,10],
  [9,5,8, 5,4,6, 3,4,3, 4,3,4, 3,4,3, 4,3,4, 3,4,3, 4,3,4, 3,4,3, 4,5,4, 5,6,5, 7,9,8,10],
  [11,6,9, 4,5,4, 4,5,3, 5,4,5, 4,5,4, 5,6,4, 5,7,5, 6,7,9, 7,5,8, 6,5,8, 6,9,7, 10,12,8,9],
  [10,6,8, 4,5,3, 5,4,6, 5,4,4, 5,6,5, 4,5,6, 5,4,5, 4,5,3, 4,5,3, 4,5,3, 4,5,3, 6,7,9,8],
  [10,6,9, 4,5,3, 5,4,6, 5,4,5, 4,5,3, 4,3,5, 5,4,5, 4,5,6, 4,5,3, 4,5,3, 4,6,4, 8,10,9,12],
  [12,7,10, 5,6,4, 6,4,7, 5,6,4, 5,4,6, 4,5,4, 5,6,4, 5,4,6, 4,5,3, 4,5,4, 6,5,8, 10,8,11,10],
  [11,6,9, 4,6,4, 5,4,6, 4,5,3, 5,4,5, 4,3,5, 4,5,4, 5,4,5, 4,5,3, 5,4,5, 4,5,4, 6,8,7,10],
  [12,6,9, 4,6,4, 5,4,6, 4,5,3, 4,5,4, 4,3,5, 4,5,4, 5,4,5, 4,5,3, 4,5,4, 5,6,5, 7,9,6,8],
  [9,6,8, 4,5,4, 5,4,6, 4,5,3, 5,4,5, 4,3,5, 4,5,4, 5,4,5, 4,5,3, 4,5,4, 5,6,5, 8,9,10,12],
  [14,9,12, 7,9,6, 8,5,7, 6]
];
const phoenixObsPeaks = [
  [2008.02,20],[2008.42,18.1],[2009.53,20.9],[2009.53,13.9],[2009.96,22.5],
  [2010.93,56.2],[2011.5,43.5],[2011.64,29.4],[2011.82,30],[2011.68,19.4],
  [2012.47,27.8],[2012.4,20.6],[2012.98,25.6],[2013.5,32.5],[2013.65,18],
  [2014.0,24.1],[2014.01,23.9],[2014.36,34.5],[2014.9,20.4],
  [2016.0,69.8],[2016.75,28],[2017.98,27.2],[2017.97,18.9]
];
const phoenixEstPeaks = [
  [2009.0,37.2],[2008.99,22.7],[2008.99,20.4],[2009.53,24.5],[2009.99,26.2],[2009.98,23.9],
  [2010.98,29.2],[2011.0,56.2],[2011.5,45.3],[2011.5,30.1],[2011.64,27.4],[2011.65,26.8],
  [2012.0,50.2],[2012.0,30.1],[2011.99,26.6],[2011.99,24.5],[2011.85,19.2],[2012.49,29.8],[2012.47,20.4],
  [2013.0,50.9],[2012.98,26.8],[2012.99,21.5],[2013.5,32.5],[2013.27,18.2],
  [2014.0,58],[2014.0,30.8],[2013.93,25.3],[2014.51,20.9],
  [2015.01,26.7],[2014.99,24.5],[2014.96,22.7],
  [2016.0,86.2],[2016.0,33.1],[2015.91,24.5],[2015.96,23.5],[2016.75,19.4],[2017.03,20.1],
  [2018.0,56.2],[2018.0,38.2],[2018.0,33.6],[2017.98,29.8],[2017.99,26.5],[2018.01,23.6]
];

// ---------- panel layout ----------
const boxLeft = 65.7, boxRight = 841;
const panels = [
  { name: "Salt Lake, Utah", rmse: "2.6", r2: "0.923",
    est: [saltLakeEst, saltLakeEstMid], obs: [saltLakeObs, saltLakeObsMid],
    estPeaks: saltLakeEstPeaks, obsPeaks: saltLakeObsPeaks,
    top: 47.3, bottom: 312, yDomain: [-2.81, 73.88], yTicks: [0,10,20,30,40,50,60,70],
    xEnd: 747.8, titleX: 255, rmseX: 237.5 },
  { name: "Albuquerque, New Mexico", rmse: "1.9", r2: "0.756",
    est: [albuquerqueEst, albuquerqueEstMid], obs: [albuquerqueObs, albuquerqueObsMid],
    estPeaks: albuquerqueEstPeaks, obsPeaks: albuquerqueObsPeaks,
    top: 443.3, bottom: 708.3, yDomain: [-3.41, 86.96], yTicks: [0,20,40,60,80],
    xEnd: 747.8, titleX: 255.5, rmseX: 237.5 },
  { name: "Phoenix, Arizona", rmse: "2.1", r2: "0.827",
    est: [phoenixEst, phoenixEstMid], obs: [phoenixObs, phoenixObsMid],
    estPeaks: phoenixEstPeaks, obsPeaks: phoenixObsPeaks,
    top: 840, bottom: 1104.3, yDomain: [-3.53, 89.78], yTicks: [0,20,40,60,80],
    xEnd: 812.9, titleX: 271, rmseX: 251.5 }
];

const DAY = 86400000;
function decimalDate(d) {
  const y = Math.floor(d);
  const a = new Date(y, 0, 1), b = new Date(y + 1, 0, 1);
  return new Date(+a + (d - y) * (b - a));
}
function slotSeries(rows, stepDays, offsetDays) {
  const out = [];
  rows.forEach((vals, k) => {
    const start = +new Date(firstYear + k, 0, 1);
    vals.forEach((v, i) =>
      out.push({ date: new Date(start + (offsetDays + i * stepDays) * DAY), value: v }));
  });
  return out;
}
function peakSeries(list) {
  return list.map(([t, v]) => ({ date: decimalDate(t), value: v }));
}

const svg = d3.select("#chart");
svg.append("rect").attr("width", 830).attr("height", 1161).attr("fill", "#fff");

panels.forEach((p, idx) => {
  const x = d3.scaleTime()
    .domain([new Date(2008, 0, 1), new Date(2018, 0, 1)])
    .range([94.3, p.xEnd]);
  const y = d3.scaleLinear().domain(p.yDomain).range([p.bottom, p.top]);

  const clipId = "clip" + idx;
  svg.append("clipPath").attr("id", clipId)
    .append("rect").attr("x", boxLeft).attr("y", p.top)
    .attr("width", boxRight - boxLeft).attr("height", p.bottom - p.top);

  const g = svg.append("g").attr("clip-path", `url(#${clipId})`);
  const obsPts = slotSeries(p.obs[0], 10, 0)
    .concat(slotSeries(p.obs[1], 10, 5), peakSeries(p.obsPeaks));
  const estPts = slotSeries(p.est[0], 5, 0)
    .concat(slotSeries(p.est[1], 5, 2.5), peakSeries(p.estPeaks));

  g.append("g").selectAll("circle").data(obsPts).join("circle")
    .attr("cx", d => x(d.date)).attr("cy", d => y(d.value))
    .attr("r", 1.75).attr("fill", "#000");
  g.append("g").selectAll("circle").data(estPts).join("circle")
    .attr("cx", d => x(d.date)).attr("cy", d => y(d.value))
    .attr("r", 1.75).attr("fill", "#ff0000");

  // frame
  svg.append("rect")
    .attr("x", boxLeft).attr("y", p.top)
    .attr("width", boxRight - boxLeft).attr("height", p.bottom - p.top)
    .attr("fill", "none").attr("stroke", "#000").attr("stroke-width", 1);

  // x axis
  const xAxis = svg.append("g").attr("transform", `translate(0,${p.bottom})`)
    .call(d3.axisBottom(x)
      .tickValues(xTickYears.map(yr => new Date(yr, 0, 1)))
      .tickFormat(d3.timeFormat("%Y"))
      .tickSize(7).tickSizeOuter(0));
  xAxis.select(".domain").remove();
  xAxis.selectAll("line").attr("stroke", "#000");
  xAxis.selectAll("text").attr("y", 26).attr("dy", 0)
    .attr("font-size", 12.1).attr("font-family", null).attr("fill", "#000");

  // y axis
  const yAxis = svg.append("g").attr("transform", `translate(${boxLeft},0)`)
    .call(d3.axisLeft(y).tickValues(p.yTicks).tickSize(7).tickSizeOuter(0));
  yAxis.select(".domain").remove();
  yAxis.selectAll("line").attr("stroke", "#000");
  yAxis.selectAll("text")
    .attr("x", 0).attr("dy", 0)
    .attr("transform", "translate(-16.4,0) rotate(-90)")
    .attr("text-anchor", "middle")
    .attr("font-size", 12.1).attr("font-family", null).attr("fill", "#000");

  // axis titles
  svg.append("text")
    .attr("x", 453.3).attr("y", p.bottom + 53.5)
    .attr("text-anchor", "middle").attr("font-size", 17.8)
    .text("Date");

  const cy = (p.top + p.bottom) / 2;
  const yt = svg.append("text")
    .attr("transform", `translate(30.7,${cy}) rotate(-90)`)
    .attr("text-anchor", "middle").attr("font-size", 17.8);
  yt.append("tspan").text("PM");
  yt.append("tspan").attr("font-size", 12.5).attr("dy", 5).text("2.5");
  yt.append("tspan").attr("dy", -5).text(" Estimates and Observations (\u03bcg/m");
  yt.append("tspan").attr("font-size", 12.5).attr("dy", -7).text("3");
  yt.append("tspan").attr("dy", 7).text(")");

  // site name and fit statistics
  svg.append("text")
    .attr("x", p.titleX).attr("y", p.top + 40)
    .attr("text-anchor", "middle").attr("font-size", 17.8)
    .text(p.name);
  const st = svg.append("text")
    .attr("x", p.rmseX).attr("y", p.top + 66)
    .attr("text-anchor", "middle").attr("font-size", 17.8);
  st.append("tspan").text(`RMSE = ${p.rmse} \u03bcg/m`);
  st.append("tspan").attr("font-size", 12.5).attr("dy", -7).text("3");
  st.append("tspan").attr("dy", 7).text(", R");
  st.append("tspan").attr("font-size", 12.5).attr("dy", -7).text("2");
  st.append("tspan").attr("dy", 7).text(` = ${p.r2}`);
});
</script>
</body>
</html>
